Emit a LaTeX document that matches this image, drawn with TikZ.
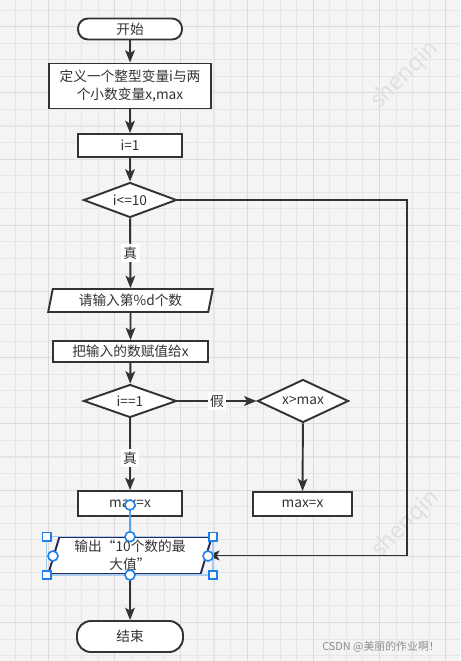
\documentclass[tikz,border=0pt]{standalone}
\usepackage{fontspec}
\setmainfont{Noto Sans CJK SC}
\usetikzlibrary{shapes.geometric,arrows.meta}
\definecolor{paper}{HTML}{F4F4F4}
\definecolor{gridmin}{HTML}{E6E6E6}
\definecolor{gridmaj}{HTML}{DBDBDB}
\definecolor{ink}{HTML}{333333}
\definecolor{selblue}{HTML}{1C7FEA}
\definecolor{edgeblue}{HTML}{5CA2EA}
\definecolor{boxblue}{HTML}{A9CDF2}
\definecolor{wmark}{HTML}{E0E0E0}
\definecolor{csdngray}{HTML}{8C8C8C}

\begin{document}
\begin{tikzpicture}[x=0.02cm,y=-0.02cm,
  every node/.style={font=\fontsize{7.8}{10}\selectfont,text=ink},
  box/.style={draw=ink,line width=1.1pt,fill=white,rectangle,inner sep=1pt},
  term/.style={box,rounded corners=0.2cm},
  cond/.style={box,diamond,aspect=2.6,inner sep=0pt},
  io/.style={box,trapezium,trapezium stretches=true,trapezium left angle=79,trapezium right angle=101},
  arr/.style={draw=ink,line width=1.1pt,-{Stealth[length=7pt,width=5.5pt,inset=1.6pt]}},
  lbl/.style={fill=white,inner sep=1.5pt},
  grip/.style={draw=selblue,line width=0.9pt,fill=white,rectangle,minimum size=0.17cm,inner sep=0pt},
  knob/.style={draw=selblue,line width=0.9pt,fill=white,circle,minimum size=0.2cm,inner sep=0pt}]

\useasboundingbox (0,0) rectangle (460,661);
\fill[paper] (0,0) rectangle (460,661);
\foreach \i in {-2,...,25} \draw[gridmin,line width=0.6pt] ({48.5+16.55*\i},0) -- ({48.5+16.55*\i},661);
\foreach \i in {-1,...,38} \draw[gridmin,line width=0.6pt] (0,{26.7+16.55*\i}) -- (460,{26.7+16.55*\i});
\foreach \i in {0,4,...,24} \draw[gridmaj,line width=0.6pt] ({48.5+16.55*\i},0) -- ({48.5+16.55*\i},661);
\foreach \i in {0,4,...,36} \draw[gridmaj,line width=0.6pt] (0,{26.7+16.55*\i}) -- (460,{26.7+16.55*\i});

\node[rotate=45,text=wmark,font=\fontsize{13}{13}\selectfont] (wm1) at (405,75) {shenqin};
\node[rotate=45,text=wmark,font=\fontsize{13}{13}\selectfont] (wm2) at (406,524) {shenqin};
\node[anchor=east,text=csdngray,font=\fontsize{6.2}{7}\selectfont] (csdn) at (446,647) {CSDN @美丽的作业啊！};

\node[term,minimum width=2.08cm,minimum height=0.42cm] (start) at (130,29) {开始};
\node[box,minimum width=3.24cm,minimum height=0.90cm,align=center] (def) at (130,86) {定义一个整型变量i与两\\个小数变量x,max};
\node[box,minimum width=2.08cm,minimum height=0.46cm] (init) at (130,145.5) {i=1};
\node[cond,minimum width=1.86cm,minimum height=0.70cm] (c1) at (130,200) {i<=10};
\node[io,minimum width=3.30cm,minimum height=0.46cm] (in1) at (130.5,300.5) {请输入第\%d个数};
\node[box,minimum width=3.10cm,minimum height=0.42cm] (asg) at (130.5,351.5) {把输入的数赋值给x};
\node[cond,minimum width=1.86cm,minimum height=0.66cm] (c2) at (130,401) {i==1};
\node[cond,minimum width=1.82cm,minimum height=0.86cm] (c3) at (303,401) {x>max};
\node[box,minimum width=2.08cm,minimum height=0.50cm] (maxL) at (130,503.5) {max=x};
\node[box,minimum width=1.98cm,minimum height=0.48cm] (maxR) at (302.5,504) {max=x};
\node[io,draw=ink!80!blue,trapezium left angle=75,trapezium right angle=105,minimum width=3.28cm,minimum height=0.74cm,align=center] (out) at (130,555.5) {输出“10个数的最\\大值”};
\node[term,rounded corners=0.28cm,minimum width=2.12cm,minimum height=0.62cm] (stop) at (130,636.5) {结束};
\coordinate (turn) at (407,200);

\draw[arr] (start) -- (def);
\draw[arr] (def) -- (init);
\draw[arr] (init) -- (c1);
\draw[arr] (c1) -- node[lbl] {真} (in1);
\draw[arr] (in1) -- (asg);
\draw[arr] (asg) -- (c2);
\draw[arr] (c2) -- node[lbl,pos=0.55] {真} (maxL);
\draw[arr] (c2) -- node[lbl] {假} (c3);
\draw[arr] (c3) -- (maxR);
\draw[arr] (c1.east) -- (turn) |- (out.east);
\draw[arr] (out) -- (stop);

\draw[boxblue,line width=0.6pt] (46.7,536.7) rectangle (213,575);
\draw[edgeblue,line width=1.1pt] (130,505) -- (out.north);
\node[knob] (h0) at (130,505) {};
\foreach \p/\q in {130/536.7,53/556,208/556,130/575} \node[knob] at (\p,\q) {};
\foreach \p/\q in {46.7/536.7,213/536.7,46.7/575,213/575} \node[grip] at (\p,\q) {};

\end{tikzpicture}
\end{document}
